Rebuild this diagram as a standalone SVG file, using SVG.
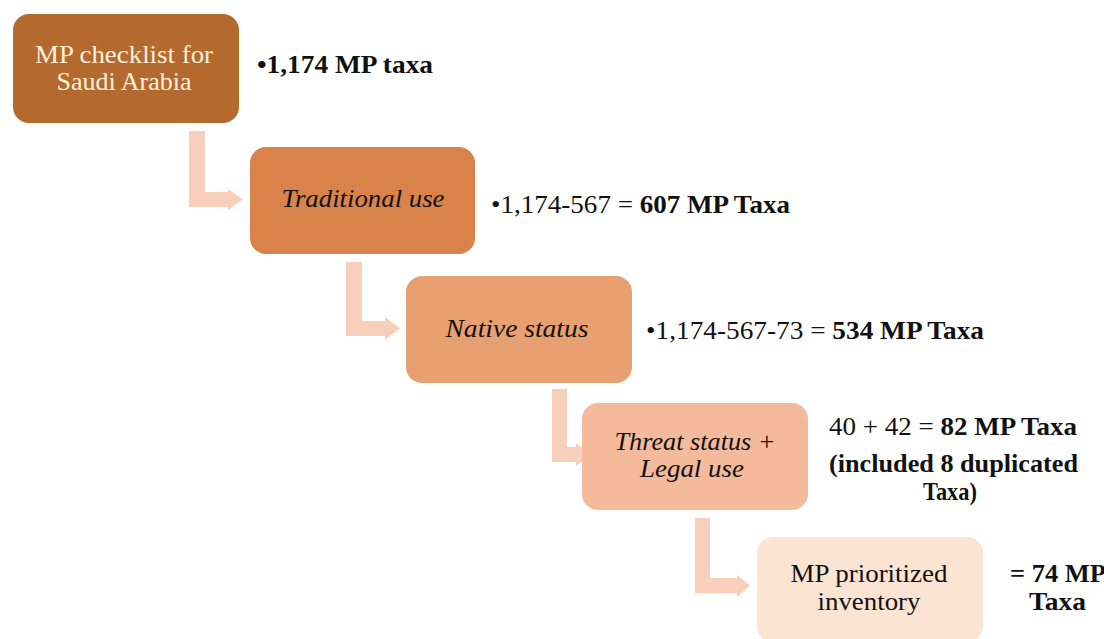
<svg xmlns="http://www.w3.org/2000/svg" width="1104" height="639" viewBox="0 0 1104 639">
<style>
.t{font-family:"Liberation Serif","Times New Roman",serif;font-size:25px;fill:#111}
.it{font-style:italic}
.b{font-weight:bold}
.arr{fill:#F8CFBB}
</style>
<rect width="1104" height="639" fill="#fff"/>
<g id="connectors">
<path class="arr" d="M189,131 H205 V192 H228 V189 L243,199.5 L228,210 V207 H189 Z"/>
<path class="arr" d="M346,262 H362 V321 H385 V317 L400,328.5 L385,340 V336 H346 Z"/>
<path class="arr" d="M552,389 H567 V447 H576 V443 L591,454.5 L576,466 V462 H552 Z"/>
<path class="arr" d="M695,518 H710 V578 H737 V575 L750,585.5 L737,597 V593 H695 Z"/>
</g>
<g id="node1">
<rect x="13" y="14" width="226" height="109" rx="16" fill="#B4692F"/>
<text class="t" x="124" y="63" text-anchor="middle" textLength="178" lengthAdjust="spacingAndGlyphs" style="fill:#FDF0DC;font-size:26px">MP checklist for</text>
<text class="t" x="124" y="90" text-anchor="middle" style="fill:#FDF0DC;font-size:26px">Saudi Arabia</text>
</g>
<g id="label1">
<text class="t b" x="257" y="73" textLength="176" lengthAdjust="spacingAndGlyphs" style="font-size:26px">•1,174 MP taxa</text>
</g>
<g id="node2">
<rect x="250" y="147" width="225" height="107" rx="16" fill="#D9824A"/>
<text class="t it" x="363" y="207" text-anchor="middle" textLength="163" lengthAdjust="spacingAndGlyphs">Traditional use</text>
</g>
<g id="label2">
<text class="t" x="491" y="213" textLength="299" lengthAdjust="spacingAndGlyphs" style="font-size:25px">•1,174-567 = <tspan class="b">607 MP Taxa</tspan></text>
</g>
<g id="node3">
<rect x="406" y="276" width="226" height="107" rx="16" fill="#E9A070"/>
<text class="t it" x="517" y="337" text-anchor="middle" textLength="143" lengthAdjust="spacingAndGlyphs">Native status</text>
</g>
<g id="label3">
<text class="t" x="646" y="339" textLength="338" lengthAdjust="spacingAndGlyphs" style="font-size:25px">•1,174-567-73 = <tspan class="b">534 MP Taxa</tspan></text>
</g>
<g id="node4">
<rect x="582" y="403" width="226" height="107" rx="16" fill="#F4BA9B"/>
<text class="t it" x="695" y="450" text-anchor="middle" textLength="161" lengthAdjust="spacingAndGlyphs">Threat status +</text>
<text class="t it" x="692" y="477" text-anchor="middle" textLength="104" lengthAdjust="spacingAndGlyphs">Legal use</text>
</g>
<g id="label4">
<text class="t" x="829" y="435" textLength="248" lengthAdjust="spacingAndGlyphs" style="font-size:25px">40 + 42 = <tspan class="b">82 MP Taxa</tspan></text>
<text class="t b" x="829" y="472" textLength="249" lengthAdjust="spacingAndGlyphs" style="font-size:25px">(included 8 duplicated</text>
<text class="t b" x="923" y="500" textLength="54" lengthAdjust="spacingAndGlyphs" style="font-size:25px">Taxa)</text>
</g>
<g id="node5">
<rect x="757" y="537" width="226" height="105" rx="16" fill="#FCE4D3"/>
<text class="t" x="869" y="582" text-anchor="middle" textLength="157" lengthAdjust="spacingAndGlyphs">MP prioritized</text>
<text class="t" x="869" y="610" text-anchor="middle" textLength="103" lengthAdjust="spacingAndGlyphs">inventory</text>
</g>
<g id="label5">
<text class="t b" x="1010" y="582" textLength="96" lengthAdjust="spacingAndGlyphs" style="font-size:25px">= 74 MP</text>
<text class="t b" x="1029" y="610" textLength="57" lengthAdjust="spacingAndGlyphs" style="font-size:25px">Taxa</text>
</g>
</svg>
